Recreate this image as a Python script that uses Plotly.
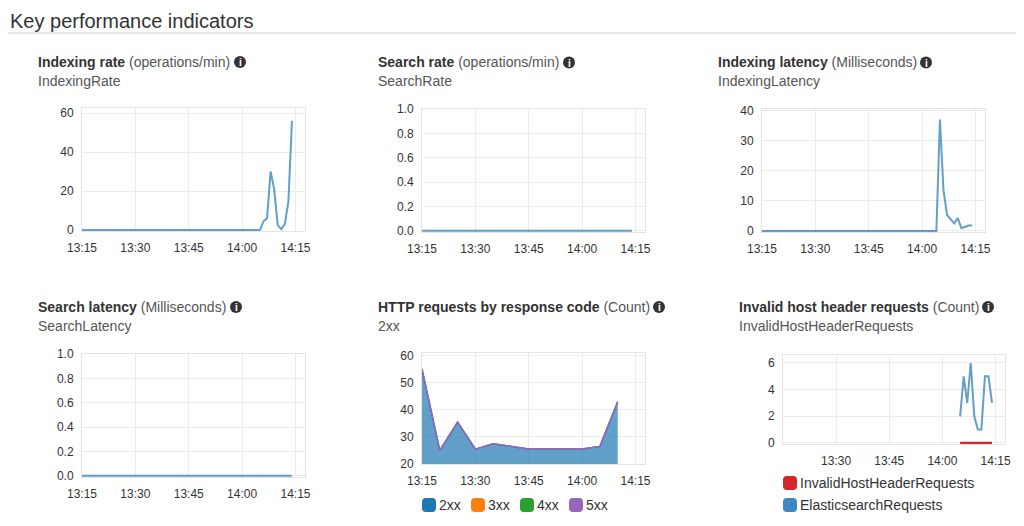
import plotly.graph_objects as go
import pandas as pd

# ---------------- data ----------------
DAY = "2020-01-01 "
minute_times = pd.date_range(DAY + "13:15", DAY + "14:14", freq="1min")
five_min_times = pd.date_range(DAY + "13:15", DAY + "14:10", freq="5min")
late_times = pd.date_range(DAY + "14:05", DAY + "14:14", freq="1min")

indexing_rate = [0.0] * 51 + [4.5, 6, 30, 21, 2.5, 0.5, 3, 14.5, 56]
search_rate = [0.0] * 60
indexing_latency = [0.0] * 50 + [37, 13.5, 5.3, 4, 2.5, 4.3, 1, 1.3, 1.8, 1.8]
search_latency = [0.0] * 60

http_codes = ["2xx", "3xx", "4xx", "5xx"]
http_2xx = [55, 25, 35.5, 25.5, 27.5, 26.5, 25.5, 25.5, 25.5, 25.5, 26.5, 43]
http_3xx = [0] * 12
http_4xx = [0] * 12
http_5xx = [0] * 12

invalid_host_names = ["InvalidHostHeaderRequests", "ElasticsearchRequests"]
invalid_host_requests = [0] * 10
elasticsearch_requests = [2, 5, 3, 6, 2, 1, 1, 5, 5, 3]

tick_labels = ["13:15", "13:30", "13:45", "14:00", "14:15"]
tick_times = [DAY + t for t in tick_labels]

# ---------------- styling ----------------
# the page body has an 8px margin, so the figure is 1016x518 placed at (8, 8)
OFF = 8
W, H = 1024 - OFF, 526 - OFF
FONT = "Liberation Sans"
BLUE_LINE = "rgba(31,119,180,0.7)"
CODE_COLORS = ["#1f77b4", "#ff7f0e", "#2ca02c", "#9467bd"]
RED = "#d62728"
GRID = "#ececec"
FRAME = "#e4e4e4"


def px(x):
    return (x - OFF) / W


def py(y):
    return 1 - (y - OFF) / H


fig = go.Figure()

# panel boxes: (left, right, top, bottom) in page pixels, y range, y ticks
panels = [
    dict(box=(82, 305, 108, 231), yr=[-0.5, 62.6], yt=[0, 20, 40, 60], fmt=None),
    dict(box=(422, 645, 108.5, 232), yr=[-0.01, 1.005], yt=[0, 0.2, 0.4, 0.6, 0.8, 1.0], fmt=".1f"),
    dict(box=(762, 985, 108.5, 232), yr=[-0.35, 40.7], yt=[0, 10, 20, 30, 40], fmt=None),
    dict(box=(82, 305, 353.5, 477), yr=[-0.01, 1.005], yt=[0, 0.2, 0.4, 0.6, 0.8, 1.0], fmt=".1f"),
    dict(box=(422, 645, 353, 464), yr=[20, 61.0], yt=[20, 30, 40, 50, 60], fmt=None),
    dict(box=(783, 1005, 355, 444), yr=[-0.08, 6.6], yt=[0, 2, 4, 6], fmt=None),
]

layout_axes = {}
for i, p in enumerate(panels, start=1):
    l, r, t, b = p["box"]
    xname = "xaxis" if i == 1 else f"xaxis{i}"
    yname = "yaxis" if i == 1 else f"yaxis{i}"
    anchor_x = "x" if i == 1 else f"x{i}"
    anchor_y = "y" if i == 1 else f"y{i}"
    tv = tick_times if i != 6 else tick_times[1:]
    tt = tick_labels if i != 6 else tick_labels[1:]
    layout_axes[xname] = dict(
        domain=[px(l), px(r)], anchor=anchor_y, type="date",
        range=[DAY + "13:15", DAY + "14:17:40"],
        tickvals=tv, ticktext=tt, showgrid=True, gridcolor=GRID,
        showline=True, mirror=True, linecolor=FRAME, zeroline=False,
        ticks="outside", ticklen=6, tickcolor="rgba(0,0,0,0)",
        tickfont=dict(family=FONT, size=12, color="#333"), fixedrange=True,
        automargin=False,
    )
    ykw = dict(
        domain=[py(b), py(t)], anchor=anchor_x, range=p["yr"],
        tickvals=p["yt"], showgrid=True, gridcolor=GRID,
        showline=True, mirror=True, linecolor=FRAME, zeroline=False,
        ticks="outside", ticklen=5, tickcolor="rgba(0,0,0,0)",
        tickfont=dict(family=FONT, size=12, color="#333"), fixedrange=True,
        automargin=False,
    )
    if p["fmt"]:
        ykw["tickformat"] = p["fmt"]
    layout_axes[yname] = ykw

line_kw = dict(mode="lines", showlegend=False, hoverinfo="skip")

fig.add_trace(go.Scatter(x=minute_times, y=indexing_rate, xaxis="x", yaxis="y",
                         line=dict(color=BLUE_LINE, width=2), **line_kw))
fig.add_trace(go.Scatter(x=minute_times, y=search_rate, xaxis="x2", yaxis="y2",
                         line=dict(color=BLUE_LINE, width=2), **line_kw))
fig.add_trace(go.Scatter(x=minute_times, y=indexing_latency, xaxis="x3", yaxis="y3",
                         line=dict(color=BLUE_LINE, width=2), **line_kw))
fig.add_trace(go.Scatter(x=minute_times, y=search_latency, xaxis="x4", yaxis="y4",
                         line=dict(color=BLUE_LINE, width=2), **line_kw))

for name, vals, col in zip(http_codes, [http_2xx, http_3xx, http_4xx, http_5xx], CODE_COLORS):
    fig.add_trace(go.Scatter(
        x=five_min_times, y=vals, xaxis="x5", yaxis="y5", stackgroup="http",
        name=name, line=dict(color=col, width=1.5 if name in ("2xx", "5xx") else 0.3),
        fillcolor="rgba(31,119,180,0.7)" if name == "2xx" else "rgba(0,0,0,0)",
        **line_kw))

fig.add_trace(go.Scatter(x=late_times, y=elasticsearch_requests, xaxis="x6", yaxis="y6",
                         name=invalid_host_names[1],
                         line=dict(color=BLUE_LINE, width=2), **line_kw))
fig.add_trace(go.Scatter(x=late_times, y=invalid_host_requests, xaxis="x6", yaxis="y6",
                         name=invalid_host_names[0],
                         line=dict(color=RED, width=2.5), **line_kw))

shapes = []
annotations = []

# page title and rule
annotations.append(dict(x=px(8), y=py(8), xref="paper", yref="paper", xanchor="left",
                        yanchor="top", showarrow=False, text="Key performance indicators",
                        font=dict(family=FONT, size=20, color="#333")))
shapes.append(dict(type="line", xref="paper", yref="paper", x0=0, x1=1,
                   y0=py(33), y1=py(33), line=dict(color="#cfcfcf", width=1)))

titles = [
    ("Indexing rate", "(operations/min)", "IndexingRate", 36, 62, 81, 240),
    ("Search rate", "(operations/min)", "SearchRate", 376, 62.5, 81, 569),
    ("Indexing latency", "(Milliseconds)", "IndexingLatency", 716, 62.5, 81, 926),
    ("Search latency", "(Milliseconds)", "SearchLatency", 36, 307, 326, 236),
    ("HTTP requests by response code", "(Count)", "2xx", 376, 307, 326, 659),
    ("Invalid host header requests", "(Count)", "InvalidHostHeaderRequests", 737, 307, 325.5, 988),
]
for bold, unit, sub, x, yt, ys, ix in titles:
    annotations.append(dict(
        x=px(x), y=py(yt), xref="paper", yref="paper", xanchor="left", yanchor="middle",
        showarrow=False, text=f"<b>{bold}</b> <span style='color:#555'>{unit}</span>",
        font=dict(family=FONT, size=14, color="#333")))
    annotations.append(dict(
        x=px(x), y=py(ys), xref="paper", yref="paper", xanchor="left", yanchor="middle",
        showarrow=False, text=sub, font=dict(family=FONT, size=14, color="#555")))
    shapes.append(dict(type="circle", xref="paper", yref="paper",
                       xsizemode="pixel", ysizemode="pixel",
                       xanchor=px(ix), yanchor=py(yt), x0=-6, x1=6, y0=-6, y1=6,
                       fillcolor="#333", line=dict(width=0)))
    annotations.append(dict(
        x=px(ix), y=py(yt + 0.5), xref="paper", yref="paper", xanchor="center",
        yanchor="middle", showarrow=False, text="<b>i</b>",
        font=dict(family=FONT, size=10, color="white")))


def rounded_square(cx, cy, s=14, r=4):
    h = s / 2
    x0, x1, y0, y1 = cx - h, cx + h, cy - h, cy + h
    pts = [
        f"M {px(x0 + r)},{py(y0)}", f"L {px(x1 - r)},{py(y0)}",
        f"Q {px(x1)},{py(y0)} {px(x1)},{py(y0 + r)}", f"L {px(x1)},{py(y1 - r)}",
        f"Q {px(x1)},{py(y1)} {px(x1 - r)},{py(y1)}", f"L {px(x0 + r)},{py(y1)}",
        f"Q {px(x0)},{py(y1)} {px(x0)},{py(y1 - r)}", f"L {px(x0)},{py(y0 + r)}",
        f"Q {px(x0)},{py(y0)} {px(x0 + r)},{py(y0)}", "Z",
    ]
    return " ".join(pts)


# legend for HTTP panel
for k, (name, col) in enumerate(zip(http_codes, CODE_COLORS)):
    left = 422 + 49 * k
    shapes.append(dict(type="path", xref="paper", yref="paper",
                       path=rounded_square(left + 7, 505), fillcolor=col, line=dict(width=0)))
    annotations.append(dict(x=px(left + 15), y=py(505), xref="paper", yref="paper",
                            xanchor="left", yanchor="middle", showarrow=False, text=name,
                            font=dict(family=FONT, size=14, color="#333")))

# legend for invalid host panel
for k, (name, col) in enumerate(zip(invalid_host_names, [RED, "#3f87c2"])):
    cy = 483 + 22 * k
    shapes.append(dict(type="path", xref="paper", yref="paper",
                       path=rounded_square(790, cy), fillcolor=col, line=dict(width=0)))
    annotations.append(dict(x=px(798), y=py(cy), xref="paper", yref="paper",
                            xanchor="left", yanchor="middle", showarrow=False, text=name,
                            font=dict(family=FONT, size=14, color="#333")))

fig.update_layout(
    width=W, height=H, autosize=False,
    margin=dict(l=0, r=0, t=0, b=0, pad=0, autoexpand=False),
    paper_bgcolor="white", plot_bgcolor="white",
    showlegend=False, shapes=shapes, annotations=annotations,
    font=dict(family=FONT, color="#333"),
    **layout_axes,
)

fig.write_html("out.html", config={"displayModeBar": False})
